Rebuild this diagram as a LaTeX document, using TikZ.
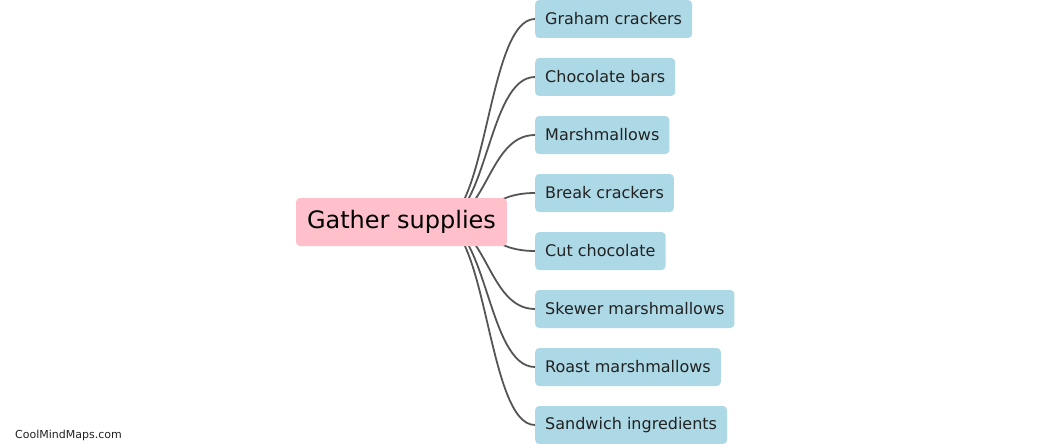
\documentclass[tikz,border=0pt]{standalone}
\usepackage{fontspec}
\setmainfont{DejaVu Sans}
\usetikzlibrary{calc,backgrounds}
\definecolor{rootfill}{HTML}{FFC0CB}
\definecolor{leaffill}{HTML}{ADD8E6}
\definecolor{linkcol}{HTML}{555555}
\definecolor{txt}{HTML}{222222}
\tikzset{
  rootbox/.style={fill=rootfill, rounded corners=4pt, inner xsep=11pt, inner ysep=0pt,
    minimum height=48pt, text=black, font=\fontsize{24}{28}\selectfont},
  leafbox/.style={fill=leaffill, rounded corners=4pt, inner xsep=10pt, inner ysep=0pt,
    minimum height=38pt, anchor=west, text=txt, font=\fontsize{16}{19}\selectfont},
  link/.style={draw=linkcol, line width=1.8pt},
}
\begin{document}
\begin{tikzpicture}[x=1pt,y=-1pt]
\useasboundingbox (0,0) rectangle (1045,444);
\node[rootbox] (root) at (401.5,222) {Gather supplies};
\node[leafbox] (c1) at (535,19) {Graham crackers};
\node[leafbox] (c2) at (535,77) {Chocolate bars};
\node[leafbox] (c3) at (535,135) {Marshmallows};
\node[leafbox] (c4) at (535,193) {Break crackers};
\node[leafbox] (c5) at (535,251) {Cut chocolate};
\node[leafbox] (c6) at (535,309) {Skewer marshmallows};
\node[leafbox] (c7) at (535,367) {Roast marshmallows};
\node[leafbox] (c8) at (535,425) {Sandwich ingredients};
\coordinate (s) at ([xshift=38.5pt]root.center);
\begin{scope}[on background layer]
\foreach \c in {c1,c2,c3,c4,c5,c6,c7,c8}{
  \draw[link] (s) .. controls +(47.5pt,0pt) and +(-47.5pt,0pt) .. (\c.west);
}
\end{scope}
\node[anchor=west, text=txt, font=\fontsize{11}{13}\selectfont, inner sep=0pt] (wm) at (15,435) {CoolMindMaps.com};
\end{tikzpicture}
\end{document}
